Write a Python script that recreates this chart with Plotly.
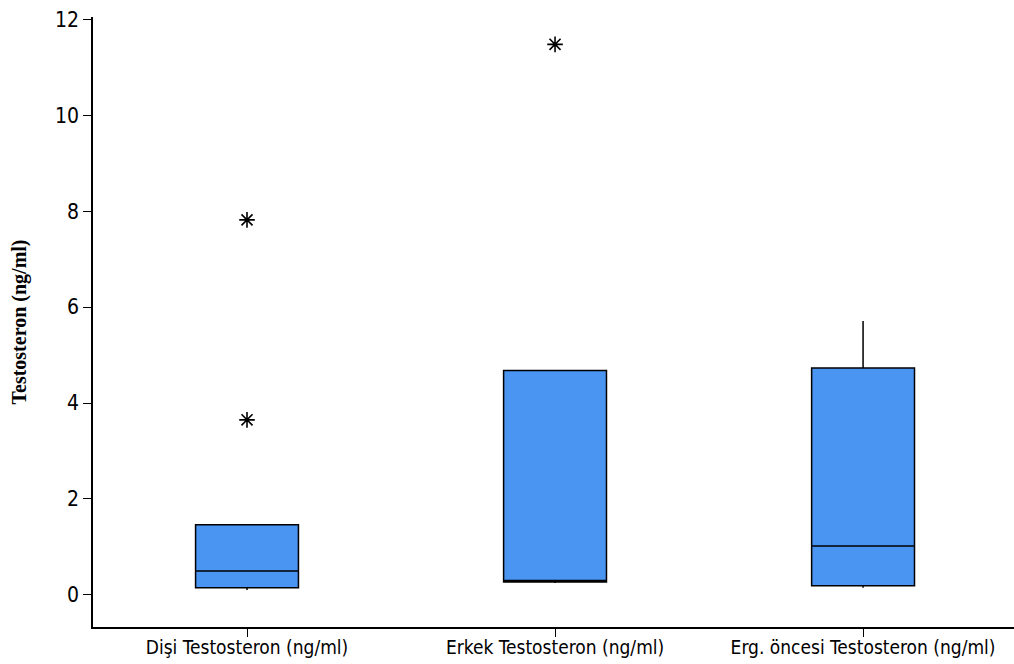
import plotly.graph_objects as go

categories = ["Dişi Testosteron (ng/ml)", "Erkek Testosteron (ng/ml)", "Erg. öncesi Testosteron (ng/ml)"]
q1 = [0.15, 0.27, 0.19]
median = [0.50, 0.30, 1.02]
q3 = [1.46, 4.68, 4.73]
lowerfence = [0.10, 0.25, 0.15]
upperfence = [1.47, 4.69, 5.71]
outlier_cats = ["Dişi Testosteron (ng/ml)", "Dişi Testosteron (ng/ml)", "Erkek Testosteron (ng/ml)"]
outlier_vals = [7.82, 3.65, 11.48]
y_ticks = [0, 2, 4, 6, 8, 10, 12]

fig = go.Figure()
fig.add_trace(go.Box(
    x=categories, q1=q1, median=median, q3=q3,
    lowerfence=lowerfence, upperfence=upperfence,
    fillcolor="rgb(74,148,242)",
    line=dict(color="black", width=1.5),
    whiskerwidth=0, width=0.334, boxpoints=False, showlegend=False,
))
fig.add_trace(go.Scatter(
    x=outlier_cats, y=outlier_vals, mode="markers",
    marker=dict(symbol="asterisk-open", size=13, color="black",
                line=dict(color="black", width=1.6)),
    showlegend=False,
))

fig.update_layout(
    width=1014, height=664,
    margin=dict(l=93, r=0, t=17, b=37),
    plot_bgcolor="white", paper_bgcolor="white",
    font=dict(family="DejaVu Sans Condensed", color="black"),
)
fig.update_xaxes(
    type="category", categoryorder="array", categoryarray=categories,
    range=[-0.5, 2.49],
    showline=True, linecolor="black", linewidth=1.5, mirror=False,
    ticks="outside", ticklen=8, tickwidth=1.2, tickcolor="black",
    ticklabelstandoff=-6,
    showgrid=False, zeroline=False, automargin=False,
    tickfont=dict(family="DejaVu Sans Condensed", size=19, color="black"),
)
fig.update_yaxes(
    range=[-0.67, 12.05], tickvals=y_ticks,
    showline=True, linecolor="black", linewidth=1.5, mirror=False,
    ticks="outside", ticklen=8, tickwidth=1.2, tickcolor="black",
    showgrid=False, zeroline=False, automargin=False,
    tickfont=dict(family="DejaVu Sans Condensed", size=21, color="black"),
    title=dict(text="<b>Testosteron (ng/ml)</b>", standoff=23,
               font=dict(family="Liberation Serif", size=20, color="black")),
)

fig.write_html("out.html")
